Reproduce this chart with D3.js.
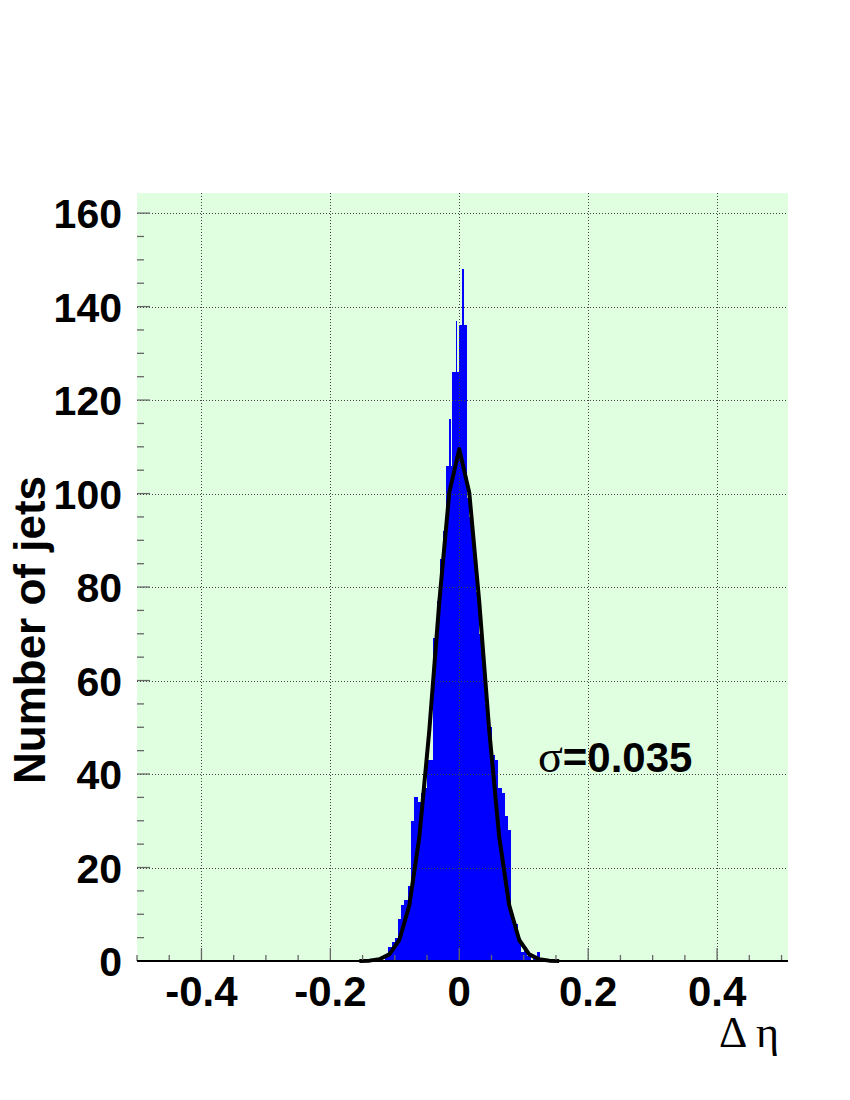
<!DOCTYPE html>
<html>
<head>
<meta charset="utf-8">
<script src="https://cdn.jsdelivr.net/npm/d3@7"></script>
<style>
html,body{margin:0;padding:0;background:#fff;}
svg{display:block;}
</style>
</head>
<body>
<svg id="chart" width="850" height="1100"></svg>
<script>
// ---- data ----
const binEdges = [-0.115,-0.110,-0.105,-0.100,-0.095,-0.090,-0.085,-0.080,-0.075,-0.070,-0.065,-0.060,-0.055,-0.050,-0.045,-0.040,-0.035,-0.030,-0.025,-0.020,
  -0.016,-0.014,-0.011,-0.0055,-0.0035,0.000,0.004,0.006,0.0115,0.015,
  0.020,0.025,0.030,0.035,0.040,0.045,0.050,0.055,0.060,0.065,0.070,0.075,0.080,0.085,0.090,0.095,0.100,0.105,0.110,0.115,0.120,0.125];
const binCounts = [1,3,4,5,9,12,13,16,30,35,34,36,37,43,43,69,77,86,92,
  106,116,106,126,137,126,136,148,136,99,
  95,88,79,70,64,55,50,44,43,37,36,31,28,10,8,5,2,3,1,0,1,2];
const fitX = [-0.155,-0.1395,-0.124,-0.1085,-0.093,-0.0775,-0.062,-0.0465,-0.031,-0.0155,0,0.0155,0.031,0.0465,0.062,0.0775,0.093,0.1085,0.124,0.1395,0.155];
const fitY = [0.02,0.08,0.37,1.42,4.49,11.9,26.5,49.3,76.8,100.2,109.5,100.2,76.8,49.3,26.5,11.9,4.49,1.42,0.37,0.08,0.02];
const xTicks = [-0.4,-0.2,0,0.2,0.4];
const xTickLabels = ["-0.4","-0.2","0","0.2","0.4"];
const yTicks = [0,20,40,60,80,100,120,140,160];
const yTickLabels = ["0","20","40","60","80","100","120","140","160"];
const xTitle = "\u0394 \u03b7";
const yTitle = "Number of jets";
const sigmaLabel = "0.035";

// ---- layout ----
const L = 137, R = 788, T = 193, B = 961;
const svg = d3.select("#chart");
const x = d3.scaleLinear().domain([-0.5, 0.51]).range([L, R]);
const y = d3.scaleLinear().domain([0, 164.3]).range([B, T]);

svg.append("rect").attr("x", L).attr("y", T).attr("width", R - L).attr("height", B - T).attr("fill", "#e0ffe0");

// histogram
const bins = binCounts.map((c, i) => ({x0: binEdges[i], x1: binEdges[i + 1], c}));
svg.append("g").attr("shape-rendering", "crispEdges").selectAll("rect").data(bins.filter(d => d.c > 0)).join("rect")
  .attr("x", d => x(d.x0))
  .attr("width", d => x(d.x1) - x(d.x0) + 0.4)
  .attr("y", d => y(d.c))
  .attr("height", d => y(0) - y(d.c))
  .attr("fill", "#0000ff");

// grid
const grid = svg.append("g").attr("stroke", "#444").attr("stroke-width", 1).attr("stroke-dasharray", "1,2");
grid.selectAll("line.v").data(xTicks).join("line").attr("class", "v")
  .attr("x1", d => Math.round(x(d)) + 0.5).attr("x2", d => Math.round(x(d)) + 0.5)
  .attr("y1", T).attr("y2", B);
grid.selectAll("line.h").data(yTicks.filter(d => d > 0)).join("line").attr("class", "h")
  .attr("x1", L).attr("x2", R)
  .attr("y1", d => Math.round(y(d)) + 0.5).attr("y2", d => Math.round(y(d)) + 0.5);

// fit curve
const line = d3.line().x((d, i) => x(fitX[i])).y(d => y(d));
svg.append("path").datum(fitY).attr("d", line).attr("fill", "none")
  .attr("stroke", "#000").attr("stroke-width", 4).attr("stroke-linejoin", "round");

// axes: ticks inside the frame
const xMinor = d3.range(-0.5, 0.5001, 0.05).map(v => +v.toFixed(3));
const yMinor = d3.range(0, 160.001, 5);
const tk = svg.append("g").attr("stroke", "#666").attr("stroke-width", 1.3);
tk.selectAll("line.xm").data(xMinor).join("line").attr("class", "xm")
  .attr("x1", d => x(d)).attr("x2", d => x(d))
  .attr("y1", B).attr("y2", d => B - (xTicks.some(t => Math.abs(t - d) < 1e-6) ? 13 : 6));
tk.selectAll("line.ym").data(yMinor).join("line").attr("class", "ym")
  .attr("y1", d => y(d)).attr("y2", d => y(d))
  .attr("x1", L).attr("x2", d => L + (d % 20 === 0 ? 13 : 7));

svg.append("line").attr("x1", L).attr("x2", R).attr("y1", B).attr("y2", B)
  .attr("stroke", "#000").attr("stroke-width", 2);

const sans = "'Liberation Sans', Arial, Helvetica, sans-serif";
const serif = "'Liberation Serif', 'Times New Roman', serif";

svg.append("g").selectAll("text").data(xTicks).join("text")
  .attr("x", d => x(d)).attr("y", 1006)
  .attr("text-anchor", "middle")
  .attr("font-family", sans).attr("font-weight", "bold").attr("font-size", 42)
  .text((d, i) => xTickLabels[i]);

svg.append("g").selectAll("text").data(yTicks).join("text")
  .attr("x", 122).attr("y", d => y(d) + 15)
  .attr("text-anchor", "end")
  .attr("font-family", sans).attr("font-weight", "bold").attr("font-size", 41)
  .text((d, i) => yTickLabels[i]);

svg.append("text")
  .attr("transform", "translate(45,630) rotate(-90)")
  .attr("text-anchor", "middle")
  .attr("font-family", sans).attr("font-weight", "bold").attr("font-size", 44)
  .text(yTitle);

svg.append("text").attr("x", 779).attr("y", 1047).attr("text-anchor", "end")
  .attr("font-family", serif).attr("font-size", 44).text(xTitle);

const s = svg.append("text").attr("x", 538).attr("y", 772);
s.append("tspan").attr("font-family", serif).attr("font-size", 46).text("\u03c3");
s.append("tspan").attr("font-family", sans).attr("font-weight", "bold").attr("font-size", 42).text("=" + sigmaLabel);
</script>
</body>
</html>
